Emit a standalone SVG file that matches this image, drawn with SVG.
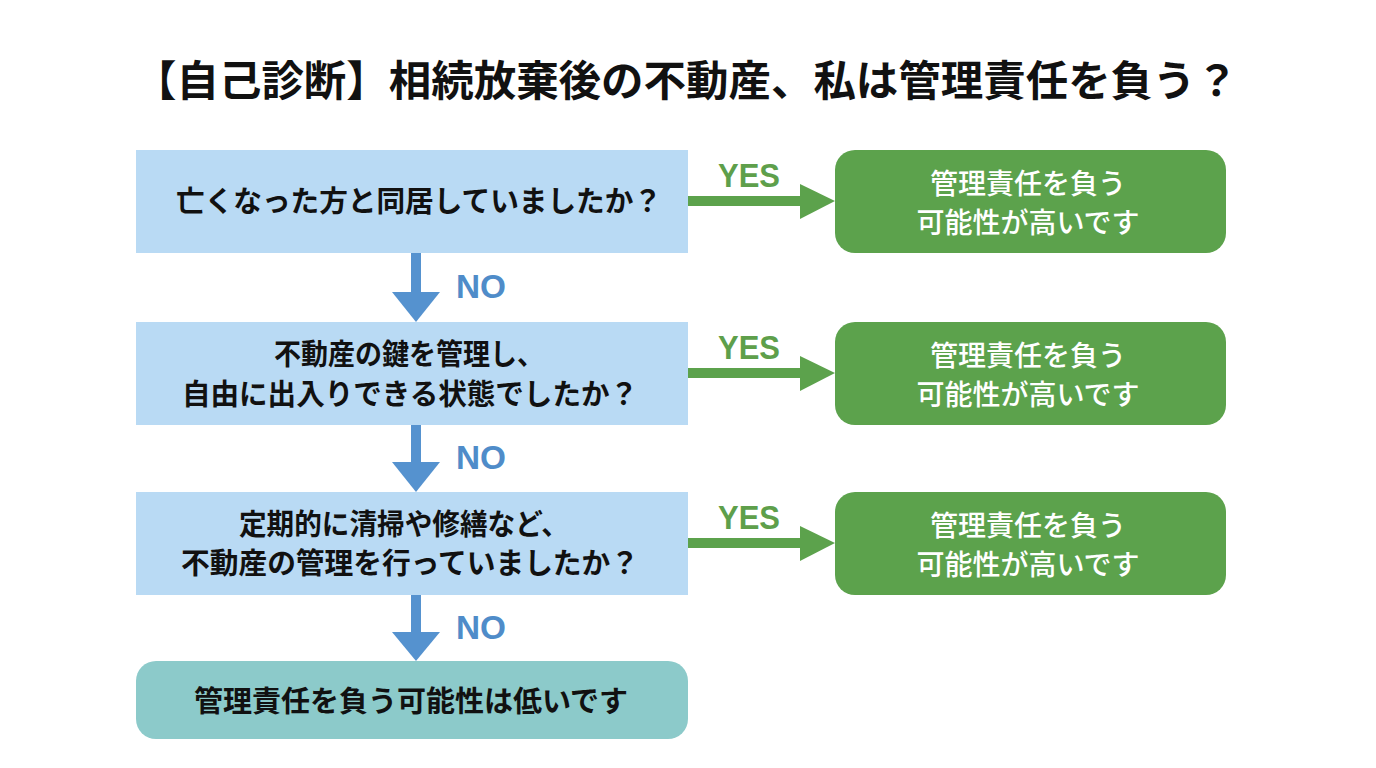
<svg xmlns="http://www.w3.org/2000/svg" width="1376" height="768" viewBox="0 0 1376 768">
<style>
text{font-family:"Noto Sans CJK JP","Noto Sans",sans-serif;font-weight:700;}
.title{font-size:42px;fill:#111;}
.q{fill:#b9daf4;}
.qt{font-size:29px;fill:#111;text-anchor:middle;}
.g{fill:#5ca24c;}
.gt{font-size:28px;fill:#fff;text-anchor:middle;font-weight:500;}
.f{fill:#8ccaca;}
.yes{font-family:"Liberation Sans",Arial,sans-serif;font-size:33px;fill:#5e9f4b;text-anchor:middle;}
.no{font-family:"Liberation Sans",Arial,sans-serif;font-size:33px;fill:#4f8cc9;text-anchor:middle;}
.ya{fill:#5ca24c;}
.na{fill:#5592cf;}
</style>
<rect width="1376" height="768" fill="#ffffff"/>
<text class="title" x="686" y="96" text-anchor="middle" textLength="1104" lengthAdjust="spacingAndGlyphs">【自己診断】相続放棄後の不動産、私は管理責任を負う？</text>

<g id="connectors">
  <g id="yes1"><rect class="ya" x="688" y="196" width="114" height="10"/><polygon class="ya" points="800,184 835,201 800,219"/><text class="yes" x="749" y="187" textLength="62" lengthAdjust="spacingAndGlyphs">YES</text></g>
  <g id="yes2"><rect class="ya" x="688" y="368" width="114" height="10"/><polygon class="ya" points="800,356 835,373 800,391"/><text class="yes" x="749" y="359" textLength="62" lengthAdjust="spacingAndGlyphs">YES</text></g>
  <g id="yes3"><rect class="ya" x="688" y="538" width="114" height="10"/><polygon class="ya" points="800,526 835,543 800,561"/><text class="yes" x="749" y="529" textLength="62" lengthAdjust="spacingAndGlyphs">YES</text></g>
  <g id="no1"><rect class="na" x="411" y="253" width="10" height="40"/><polygon class="na" points="392,292 440,292 416,322"/><text class="no" x="481" y="298" textLength="50" lengthAdjust="spacingAndGlyphs">NO</text></g>
  <g id="no2"><rect class="na" x="411" y="425" width="10" height="38"/><polygon class="na" points="392,462 440,462 416,492"/><text class="no" x="481" y="469" textLength="50" lengthAdjust="spacingAndGlyphs">NO</text></g>
  <g id="no3"><rect class="na" x="411" y="595" width="10" height="38"/><polygon class="na" points="392,632 440,632 416,661"/><text class="no" x="481" y="639" textLength="50" lengthAdjust="spacingAndGlyphs">NO</text></g>
</g>

<g id="q1"><rect class="q" x="136" y="150" width="552" height="103"/><text class="qt" x="419" y="212" textLength="486" lengthAdjust="spacingAndGlyphs">亡くなった方と同居していましたか？</text></g>
<g id="q2"><rect class="q" x="136" y="322" width="552" height="103"/><text class="qt" x="409" y="365" textLength="270" lengthAdjust="spacingAndGlyphs">不動産の鍵を管理し、</text><text class="qt" x="410" y="405" textLength="456" lengthAdjust="spacingAndGlyphs">自由に出入りできる状態でしたか？</text></g>
<g id="q3"><rect class="q" x="136" y="492" width="552" height="103"/><text class="qt" x="404" y="535" textLength="330" lengthAdjust="spacingAndGlyphs">定期的に清掃や修繕など、</text><text class="qt" x="410" y="574" textLength="458" lengthAdjust="spacingAndGlyphs">不動産の管理を行っていましたか？</text></g>

<g id="r1"><rect class="g" x="835" y="150" width="391" height="103" rx="20"/><text class="gt" x="1028" y="194">管理責任を負う</text><text class="gt" x="1028" y="233">可能性が高いです</text></g>
<g id="r2"><rect class="g" x="835" y="322" width="391" height="103" rx="20"/><text class="gt" x="1028" y="366">管理責任を負う</text><text class="gt" x="1028" y="405">可能性が高いです</text></g>
<g id="r3"><rect class="g" x="835" y="492" width="391" height="103" rx="20"/><text class="gt" x="1028" y="536">管理責任を負う</text><text class="gt" x="1028" y="575">可能性が高いです</text></g>

<g id="final"><rect class="f" x="136" y="661" width="552" height="78" rx="20"/><text class="qt" x="411" y="712" textLength="434" lengthAdjust="spacingAndGlyphs">管理責任を負う可能性は低いです</text></g>
</svg>
